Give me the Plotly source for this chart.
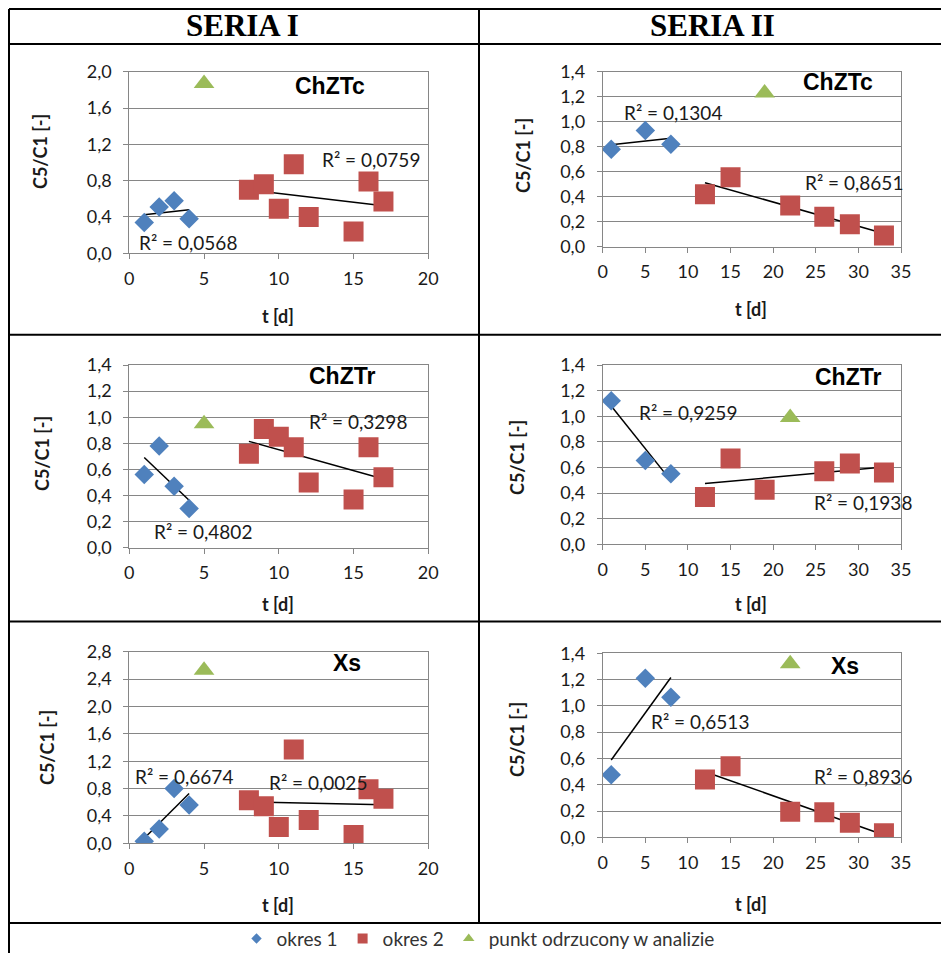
import numpy as np
import plotly.graph_objects as go

# The page body keeps its default 8px margin, so the figure is sized to fill the
# 949x961 window exactly and all positions are converted from window pixels.
WIN_W, WIN_H = 949, 961
OFF = 8
W, H = WIN_W - 2 * OFF, WIN_H - 2 * OFF

# ---------------- data ----------------
series_titles = ["SERIA I", "SERIA II"]
legend_names = ["okres 1", "okres 2", "punkt odrzucony w analizie"]

# SERIA I (time in days)
t_okres1_I = [1, 2, 3, 4]
t_okres2_I = [8, 9, 10, 11, 12, 15, 16, 17]
t_odrz_I = [5]

chztc_I_okres1 = [0.34, 0.51, 0.58, 0.38]
chztc_I_okres2 = [0.70, 0.76, 0.49, 0.98, 0.40, 0.24, 0.79, 0.57]
chztc_I_odrz = [1.87]

chztr_I_okres1 = [0.56, 0.78, 0.47, 0.30]
chztr_I_okres2 = [0.72, 0.91, 0.85, 0.77, 0.50, 0.37, 0.77, 0.54]
chztr_I_odrz = [0.95]

xs_I_okres1 = [0.03, 0.21, 0.80, 0.56]
xs_I_okres2 = [0.63, 0.54, 0.24, 1.37, 0.34, 0.12, 0.79, 0.65]
xs_I_odrz = [2.53]

# SERIA II
t_okres1_II = [1, 5, 8]
t_okres2_II_chztc = [12, 15, 22, 26, 29, 33]
t_okres2_II_chztr = [12, 15, 19, 26, 29, 33]
t_okres2_II_xs = [12, 15, 22, 26, 29, 33]
t_odrz_II_chztc = [19]
t_odrz_II_chztr = [22]
t_odrz_II_xs = [22]

chztc_II_okres1 = [0.78, 0.93, 0.82]
chztc_II_okres2 = [0.42, 0.555, 0.33, 0.24, 0.18, 0.09]
chztc_II_odrz = [1.23]

chztr_II_okres1 = [1.12, 0.655, 0.55]
chztr_II_okres2 = [0.37, 0.67, 0.425, 0.57, 0.63, 0.56]
chztr_II_odrz = [0.99]

xs_II_okres1 = [0.475, 1.21, 1.065]
xs_II_okres2 = [0.44, 0.54, 0.195, 0.19, 0.11, 0.03]
xs_II_odrz = [1.32]

# R² labels (as printed)
r2_chztc_I = ["0,0568", "0,0759"]
r2_chztc_II = ["0,1304", "0,8651"]
r2_chztr_I = ["0,4802", "0,3298"]
r2_chztr_II = ["0,9259", "0,1938"]
r2_xs_I = ["0,6674", "0,0025"]
r2_xs_II = ["0,6513", "0,8936"]

# axis ranges / ticks
x_max_I, x_max_II, x_dtick = 20, 35, 5
y_max = {"ChZTc_I": 2.0, "ChZTc_II": 1.4, "ChZTr_I": 1.4, "ChZTr_II": 1.4, "Xs_I": 2.8, "Xs_II": 1.4}
y_dtick = {"ChZTc_I": 0.4, "ChZTc_II": 0.2, "ChZTr_I": 0.2, "ChZTr_II": 0.2, "Xs_I": 0.4, "Xs_II": 0.2}

x_title = "t [d]"
y_title = "C5/C1 [-]"

# ---------------- styling / layout ----------------
BLUE, RED, GREEN = "#4F81BD", "#C0504D", "#9BBB59"
GRID = "#868686"
TXT = "#1a1a1a"
LATO = "Lato, Carlito, Calibri, sans-serif"
ARIAL = "Liberation Sans, Arial, sans-serif"


def px(x):
    return (x - OFF) / W


def py(y):
    return 1 - (y - OFF) / H


panels = [
    dict(key="ChZTc_I", name="ChZTc", t1=t_okres1_I, y1=chztc_I_okres1, t2=t_okres2_I, y2=chztc_I_okres2,
         tx=t_odrz_I, yx=chztc_I_odrz, r2=r2_chztc_I, xmax=x_max_I,
         dom_x=(129.3, 428.3), dom_y=(71.7, 253.3), title=(330, 86), r2a=(137, 242), r2b=(320, 160),
         ytit=(40, 152), xtit=(278, 316)),
    dict(key="ChZTc_II", name="ChZTc", t1=t_okres1_II, y1=chztc_II_okres1, t2=t_okres2_II_chztc, y2=chztc_II_okres2,
         tx=t_odrz_II_chztc, yx=chztc_II_odrz, r2=r2_chztc_II, xmax=x_max_II,
         dom_x=(602.7, 901), dom_y=(71.7, 246.7), title=(838, 82), r2a=(622, 112), r2b=(803, 183),
         ytit=(523, 156), xtit=(751, 309)),
    dict(key="ChZTr_I", name="ChZTr", t1=t_okres1_I, y1=chztr_I_okres1, t2=t_okres2_I, y2=chztr_I_okres2,
         tx=t_odrz_I, yx=chztr_I_odrz, r2=r2_chztr_I, xmax=x_max_I,
         dom_x=(129.3, 428.3), dom_y=(365, 547.7), title=(342, 376), r2a=(152, 531), r2b=(307, 421),
         ytit=(42, 454), xtit=(278, 604)),
    dict(key="ChZTr_II", name="ChZTr", t1=t_okres1_II, y1=chztr_II_okres1, t2=t_okres2_II_chztr, y2=chztr_II_okres2,
         tx=t_odrz_II_chztr, yx=chztr_II_odrz, r2=r2_chztr_II, xmax=x_max_II,
         dom_x=(602.7, 901), dom_y=(365, 544.3), title=(848, 377), r2a=(637, 412), r2b=(812, 502),
         ytit=(517, 458), xtit=(751, 604)),
    dict(key="Xs_I", name="Xs", t1=t_okres1_I, y1=xs_I_okres1, t2=t_okres2_I, y2=xs_I_okres2,
         tx=t_odrz_I, yx=xs_I_odrz, r2=r2_xs_I, xmax=x_max_I,
         dom_x=(129.3, 428.3), dom_y=(651.7, 843.3), title=(347, 663), r2a=(133, 776), r2b=(267, 782),
         ytit=(47, 748), xtit=(278, 905)),
    dict(key="Xs_II", name="Xs", t1=t_okres1_II, y1=xs_II_okres1, t2=t_okres2_II_xs, y2=xs_II_okres2,
         tx=t_odrz_II_xs, yx=xs_II_odrz, r2=r2_xs_II, xmax=x_max_II,
         dom_x=(602.7, 901), dom_y=(653.3, 837.3), title=(845, 666), r2a=(649, 721), r2b=(812, 776),
         ytit=(517, 740), xtit=(751, 904)),
]

fig = go.Figure()
layout = {}
annotations = []

for i, p in enumerate(panels, start=1):
    xa = "x" if i == 1 else f"x{i}"
    ya = "y" if i == 1 else f"y{i}"
    xname = "xaxis" if i == 1 else f"xaxis{i}"
    yname = "yaxis" if i == 1 else f"yaxis{i}"

    layout[xname] = dict(
        domain=[px(p["dom_x"][0]), px(p["dom_x"][1])], anchor=ya, automargin=False,
        range=[0, p["xmax"]], dtick=x_dtick, tick0=0, showgrid=False, zeroline=False,
        showline=True, linecolor=GRID, linewidth=1, mirror=True,
        ticks="outside", ticklen=5, tickcolor=GRID, tickwidth=1, ticklabelstandoff=4,
        tickfont=dict(family=LATO, size=18, color=TXT), fixedrange=True,
    )
    layout[yname] = dict(
        domain=[py(p["dom_y"][1]), py(p["dom_y"][0])], anchor=xa, automargin=False,
        range=[0, y_max[p["key"]]], dtick=y_dtick[p["key"]], tick0=0, tickformat=".1f",
        showgrid=True, gridcolor=GRID, gridwidth=1, zeroline=False,
        showline=True, linecolor=GRID, linewidth=1, mirror=True,
        ticks="outside", ticklen=5, tickcolor=GRID, tickwidth=1, ticklabelstandoff=8,
        tickfont=dict(family=LATO, size=18, color=TXT), fixedrange=True,
    )

    # trendlines (linear least squares over each period's time range)
    for tt, yy in ((p["t1"], p["y1"]), (p["t2"], p["y2"])):
        a, b = np.polyfit(tt, yy, 1)
        xs = np.array([min(tt), max(tt)], dtype=float)
        fig.add_trace(go.Scatter(x=xs, y=a * xs + b, mode="lines", xaxis=xa, yaxis=ya,
                                 line=dict(color="black", width=1.5), showlegend=False, hoverinfo="skip"))

    fig.add_trace(go.Scatter(x=p["t1"], y=p["y1"], mode="markers", xaxis=xa, yaxis=ya, name=legend_names[0],
                             marker=dict(symbol="diamond", size=15, color=BLUE), showlegend=False))
    fig.add_trace(go.Scatter(x=p["t2"], y=p["y2"], mode="markers", xaxis=xa, yaxis=ya, name=legend_names[1],
                             marker=dict(symbol="square", size=20, color=RED), showlegend=False))
    fig.add_trace(go.Scatter(x=p["tx"], y=p["yx"], mode="markers", xaxis=xa, yaxis=ya, name=legend_names[2],
                             marker=dict(symbol="triangle-up", size=18, color=GREEN), showlegend=False))

    # panel title
    annotations.append(dict(x=px(p["title"][0]), y=py(p["title"][1]), xref="paper", yref="paper",
                            text=f"<b>{p['name']}</b>", showarrow=False, xanchor="center", yanchor="middle",
                            font=dict(family=ARIAL, size=23, color="black")))
    # R² labels
    for (lx, ly), val in ((p["r2a"], p["r2"][0]), (p["r2b"], p["r2"][1])):
        annotations.append(dict(x=px(lx), y=py(ly), xref="paper", yref="paper", text=f"R² = {val}",
                                showarrow=False, xanchor="left", yanchor="middle",
                                font=dict(family=LATO, size=19, color=TXT)))
    # axis titles
    annotations.append(dict(x=px(p["ytit"][0]), y=py(p["ytit"][1]), xref="paper", yref="paper",
                            text=f"<b>{y_title}</b>", textangle=-90, showarrow=False,
                            xanchor="center", yanchor="middle", font=dict(family=LATO, size=18, color=TXT)))
    annotations.append(dict(x=px(p["xtit"][0]), y=py(p["xtit"][1]), xref="paper", yref="paper",
                            text=f"<b>{x_title}</b>", showarrow=False,
                            xanchor="center", yanchor="middle", font=dict(family=LATO, size=18, color=TXT)))

# legend-only entries (small symbols as in the original legend)
for name, sym, col, sz in ((legend_names[0], "diamond", BLUE, 8),
                           (legend_names[1], "square", RED, 10),
                           (legend_names[2], "triangle-up", GREEN, 10)):
    fig.add_trace(go.Scatter(x=[None], y=[None], mode="markers", name=name,
                             marker=dict(symbol=sym, size=sz, color=col), showlegend=True))

# column headers
for txt, cx in zip(series_titles, (242, 712)):
    annotations.append(dict(x=px(cx), y=py(25), xref="paper", yref="paper", text=f"<b>{txt}</b>",
                            showarrow=False, xanchor="center", yanchor="middle",
                            font=dict(family="Liberation Serif, Times New Roman, serif", size=31, color="black")))

# table borders
shapes = []
LW = 2
for yline in (9, 44, 334.7, 621.5, 923):
    shapes.append(dict(type="line", xref="paper", yref="paper", x0=px(9), x1=1.0, y0=py(yline), y1=py(yline),
                       line=dict(color="black", width=LW)))
shapes.append(dict(type="line", xref="paper", yref="paper", x0=px(9), x1=px(9), y0=py(9), y1=0,
                   line=dict(color="black", width=LW)))
shapes.append(dict(type="line", xref="paper", yref="paper", x0=px(479), x1=px(479), y0=py(9), y1=py(923),
                   line=dict(color="black", width=LW)))

fig.update_layout(
    width=W, height=H, margin=dict(l=0, r=0, t=0, b=0, autoexpand=False),
    paper_bgcolor="white", plot_bgcolor="white",
    separators=", ",
    annotations=annotations, shapes=shapes,
    legend=dict(orientation="h", x=px(478), xanchor="center", y=-0.005, yanchor="bottom",
                font=dict(family=LATO, size=19, color="#333333"), bgcolor="rgba(0,0,0,0)",
                itemsizing="trace", tracegroupgap=0),
    **layout,
)

fig.write_html("out.html", config={"displayModeBar": False})
